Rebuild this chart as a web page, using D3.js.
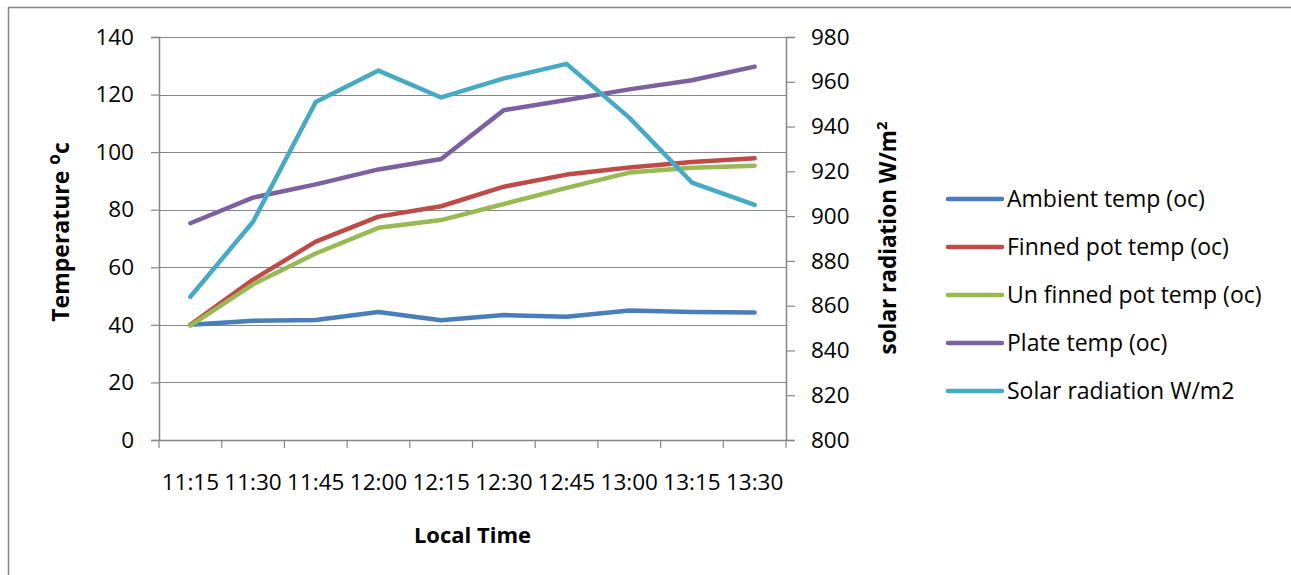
<!DOCTYPE html>
<html lang="en">
<head>
<meta charset="UTF-8">
<title>Temperature and solar radiation</title>
<script src="https://d3js.org/d3.v7.min.js"></script>
<style>
  body { margin: 0; background: #fff; }
  text { font-family: "Open Sans", sans-serif; fill: #000; }
</style>
</head>
<body>
<script>
// data
var times = ["11:15", "11:30", "11:45", "12:00", "12:15", "12:30", "12:45", "13:00", "13:15", "13:30"];
var ambient = [40.0, 41.4, 41.7, 44.5, 41.6, 43.4, 42.8, 45.0, 44.5, 44.3];
var finned = [40.0, 55.7, 68.9, 77.6, 81.2, 88.0, 92.2, 94.7, 96.6, 97.9];
var unfinned = [39.7, 54.1, 64.8, 73.7, 76.4, 82.0, 87.6, 92.9, 94.6, 95.3];
var plate = [75.3, 84.2, 88.8, 94.0, 97.6, 114.6, 118.1, 121.8, 125.0, 129.7];
var solar = [864, 897.5, 951, 965, 953, 961.5, 968, 944, 915, 905];
var leftTicks = [0, 20, 40, 60, 80, 100, 120, 140];
var rightTicks = [800, 820, 840, 860, 880, 900, 920, 940, 960, 980];

var series = [
  {name: "Ambient temp (oc)", values: ambient, color: "#4a7ebb", axis: "left"},
  {name: "Finned pot temp (oc)", values: finned, color: "#be4b48", axis: "left"},
  {name: "Un finned pot temp (oc)", values: unfinned, color: "#98b954", axis: "left"},
  {name: "Plate temp (oc)", values: plate, color: "#7d60a0", axis: "left"},
  {name: "Solar radiation W/m2", values: solar, color: "#46aac5", axis: "right"}
];

var W = 1291, H = 575;
var plot = {left: 159, right: 786, top: 37, bottom: 440};
var grey = "#868686";

var svg = d3.select("body").append("svg")
    .attr("width", W)
    .attr("height", H);

// chart frame
svg.append("rect")
    .attr("x", 8.5).attr("y", 7.5)
    .attr("width", W).attr("height", H)
    .attr("fill", "none")
    .attr("stroke", grey)
    .attr("stroke-width", 1.5);

var x = d3.scaleBand().domain(times).range([plot.left, plot.right]);
var yL = d3.scaleLinear().domain([0, 140]).range([plot.bottom, plot.top]);
var yR = d3.scaleLinear().domain([800, 980]).range([plot.bottom, plot.top]);

// horizontal gridlines
svg.append("g")
    .selectAll("line")
    .data(leftTicks.slice(1))
    .join("line")
    .attr("x1", plot.left).attr("x2", plot.right)
    .attr("y1", d => Math.round(yL(d)) + 0.5)
    .attr("y2", d => Math.round(yL(d)) + 0.5)
    .attr("stroke", grey)
    .attr("stroke-width", 1.2);

// left axis
var gL = svg.append("g")
    .attr("transform", "translate(" + plot.left + ",0)")
    .call(d3.axisLeft(yL).tickValues(leftTicks).tickSize(8).tickPadding(17));

// right axis
var gR = svg.append("g")
    .attr("transform", "translate(" + plot.right + ",0)")
    .call(d3.axisRight(yR).tickValues(rightTicks).tickSize(9).tickPadding(16));

// bottom axis: ticks on band edges
var gB = svg.append("g")
    .attr("transform", "translate(0," + plot.bottom + ")")
    .call(d3.axisBottom(x).tickSize(0).tickPadding(34));

gB.selectAll(".edge")
    .data(times.concat(["end"]))
    .join("line")
    .attr("class", "edge")
    .attr("x1", (d, i) => plot.left + i * x.step())
    .attr("x2", (d, i) => plot.left + i * x.step())
    .attr("y1", 0).attr("y2", 8)
    .attr("stroke", grey)
    .attr("stroke-width", 1.2);

[gL, gR, gB].forEach(function(g) {
  g.selectAll(".domain").attr("stroke", grey).attr("stroke-width", 1.5);
  g.selectAll(".tick line").attr("stroke", grey).attr("stroke-width", 1.2);
  g.selectAll("text").style("font-size", "22.5px").style("font-family", "Open Sans");
});

// lines
var line = function(s) {
  var ys = s.axis === "left" ? yL : yR;
  return d3.line()
    .x((d, i) => x(times[i]) + x.bandwidth() / 2)
    .y(d => ys(d))(s.values);
};

svg.append("g")
    .selectAll("path")
    .data(series)
    .join("path")
    .attr("d", d => line(d))
    .attr("fill", "none")
    .attr("stroke", d => d.color)
    .attr("stroke-width", 4.5)
    .attr("stroke-linecap", "round")
    .attr("stroke-linejoin", "round");

// axis titles
svg.append("text")
    .attr("x", (plot.left + plot.right) / 2)
    .attr("y", 543)
    .attr("text-anchor", "middle")
    .style("font-size", "22px")
    .style("font-weight", "bold")
    .text("Local Time");

var tl = svg.append("text")
    .attr("transform", "translate(69,232) rotate(-90)")
    .attr("text-anchor", "middle")
    .style("font-size", "23px")
    .style("font-weight", "bold");
tl.append("tspan").text("Temperature ");
tl.append("tspan").attr("dy", -9).style("font-size", "17px").text("o");
tl.append("tspan").attr("dy", 9).text("c");

var tr = svg.append("text")
    .attr("transform", "translate(896,238) rotate(-90)")
    .attr("text-anchor", "middle")
    .style("font-size", "22.5px")
    .style("font-weight", "bold");
tr.append("tspan").text("solar radiation W/m");
tr.append("tspan").attr("dy", -9).style("font-size", "15px").text("2");

// legend
var legend = svg.append("g")
    .selectAll("g")
    .data(series)
    .join("g")
    .attr("transform", (d, i) => "translate(948," + (199 + i * 48) + ")");

legend.append("line")
    .attr("x1", 0).attr("x2", 54)
    .attr("stroke", d => d.color)
    .attr("stroke-width", 4.5)
    .attr("stroke-linecap", "round");

legend.append("text")
    .attr("x", 59)
    .attr("dy", "0.35em")
    .style("font-size", "23px")
    .text(d => d.name);
</script>
</body>
</html>
